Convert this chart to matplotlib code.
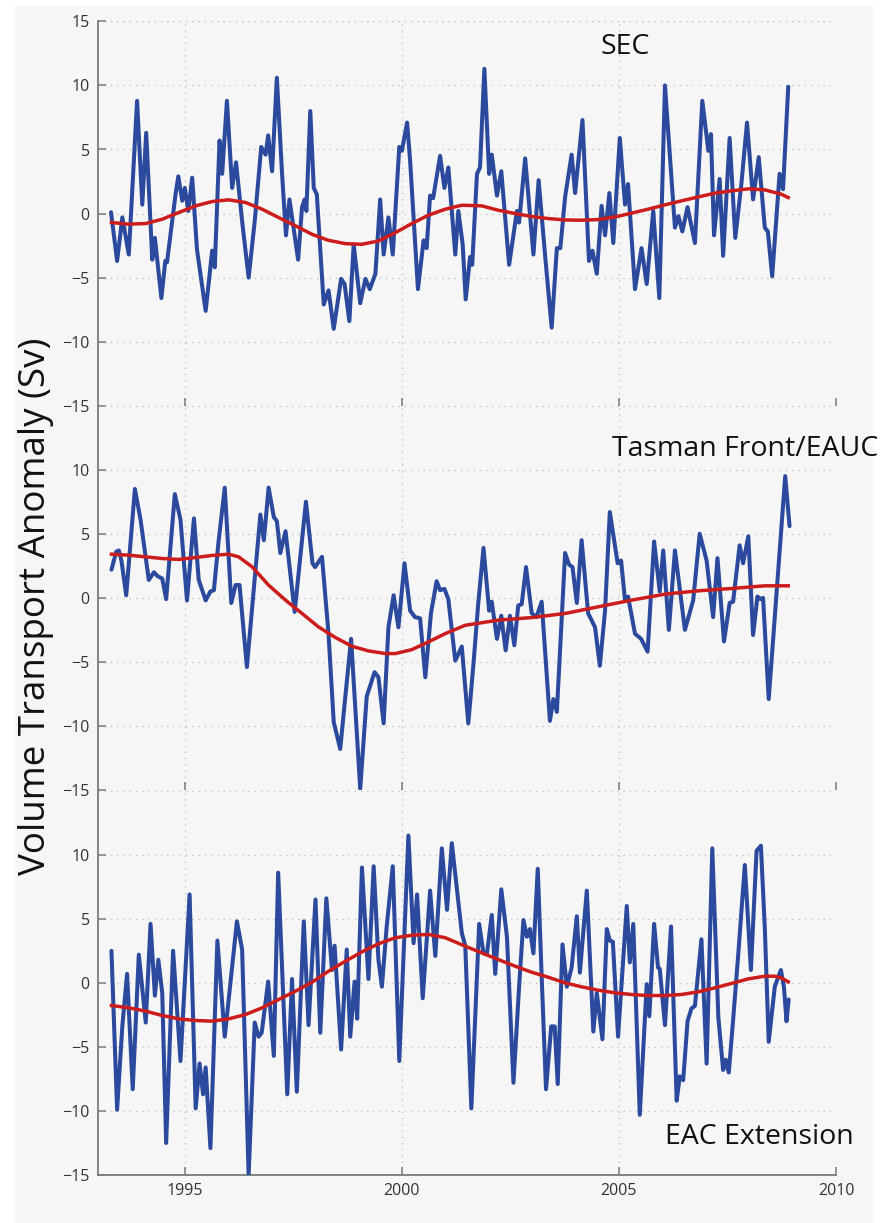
import matplotlib
matplotlib.use('Agg')
import numpy as np
from matplotlib import pyplot as plt
from matplotlib.patches import Rectangle

plt.rcParams['font.family'] = ['Open Sans', 'DejaVu Sans']

### Series (year, Sv) ###
sec_t = [1993.30, 1993.44, 1993.56, 1993.71, 1993.90, 1994.02, 1994.11, 1994.25, 1994.31, 1994.46,
         1994.55, 1994.59, 1994.79, 1994.85, 1994.94, 1995.00, 1995.08, 1995.17, 1995.28, 1995.48,
         1995.63, 1995.69, 1995.80, 1995.86, 1995.97, 1996.09, 1996.18, 1996.32, 1996.47, 1996.61,
         1996.76, 1996.86, 1996.92, 1997.01, 1997.12, 1997.24, 1997.33, 1997.41, 1997.61, 1997.70,
         1997.76, 1997.80, 1997.89, 1997.97, 1998.04, 1998.20, 1998.31, 1998.43, 1998.60, 1998.68,
         1998.79, 1998.89, 1999.04, 1999.16, 1999.26, 1999.39, 1999.50, 1999.58, 1999.69, 1999.79,
         1999.94, 2000.00, 2000.12, 2000.19, 2000.37, 2000.50, 2000.57, 2000.65, 2000.72, 2000.88,
         2000.98, 2001.07, 2001.23, 2001.30, 2001.40, 2001.47, 2001.57, 2001.62, 2001.73, 2001.80,
         2001.90, 2002.01, 2002.07, 2002.19, 2002.29, 2002.47, 2002.65, 2002.70, 2002.84, 2003.03,
         2003.15, 2003.31, 2003.45, 2003.57, 2003.65, 2003.76, 2003.91, 2003.99, 2004.16, 2004.31,
         2004.39, 2004.49, 2004.60, 2004.68, 2004.78, 2004.87, 2005.02, 2005.14, 2005.21, 2005.37,
         2005.52, 2005.64, 2005.79, 2005.93, 2006.06, 2006.29, 2006.37, 2006.46, 2006.58, 2006.75,
         2006.92, 2007.06, 2007.12, 2007.19, 2007.32, 2007.40, 2007.55, 2007.68, 2007.82, 2007.95,
         2008.09, 2008.22, 2008.36, 2008.43, 2008.53, 2008.70, 2008.78, 2008.90]
sec_v = [0.1, -3.7, -0.3, -3.2, 8.8, 0.7, 6.3, -3.6, -1.9, -6.6,
         -3.7, -3.8, 1.6, 2.9, 1.0, 2.0, 0.2, 2.8, -2.8, -7.6,
         -2.9, -4.2, 5.7, 3.1, 8.8, 2.0, 4.0, -0.6, -5.0, -0.6,
         5.2, 4.6, 6.1, 3.3, 10.6, 3.1, -1.7, 1.1, -3.6, 0.5,
         1.1, 0.2, 8.0, 2.0, 1.5, -7.1, -6.0, -9.0, -5.1, -5.5,
         -8.4, -2.4, -7.0, -5.1, -5.9, -4.7, 1.1, -3.2, -0.3, -3.2,
         5.2, 4.9, 7.1, 4.1, -5.9, -2.1, -2.7, 1.4, 1.2, 4.5,
         2.0, 3.6, -3.2, 0.2, -2.4, -6.7, -3.4, -4.0, 3.1, 3.6,
         11.3, 3.1, 4.6, 1.4, 3.3, -4.0, 0.2, -0.7, 4.3, -3.2,
         2.6, -3.7, -8.9, -2.7, -2.7, 1.3, 4.6, 1.6, 7.3, -3.7,
         -2.9, -4.7, 0.6, -1.7, 1.6, -2.3, 5.9, 0.7, 2.3, -5.9,
         -2.7, -5.5, 0.2, -6.6, 10.0, -1.1, -0.2, -1.4, 0.5, -2.3,
         8.8, 4.9, 6.2, -1.7, 2.7, -3.3, 5.9, -1.9, 2.3, 7.1,
         1.1, 4.4, -1.1, -1.4, -4.9, 3.1, 1.9, 9.9]

tf_t = [1993.31, 1993.42, 1993.48, 1993.54, 1993.65, 1993.85, 1993.98, 1994.17, 1994.29, 1994.37,
        1994.48, 1994.57, 1994.77, 1994.90, 1995.05, 1995.21, 1995.32, 1995.48, 1995.59, 1995.67,
        1995.78, 1995.92, 1996.07, 1996.17, 1996.26, 1996.43, 1996.74, 1996.82, 1996.93, 1997.05,
        1997.12, 1997.20, 1997.32, 1997.53, 1997.79, 1997.94, 1998.00, 1998.16, 1998.31, 1998.43,
        1998.58, 1998.68, 1998.83, 1999.04, 1999.19, 1999.37, 1999.46, 1999.58, 1999.69, 1999.81,
        1999.92, 2000.06, 2000.19, 2000.30, 2000.42, 2000.54, 2000.67, 2000.80, 2000.88, 2000.98,
        2001.07, 2001.23, 2001.38, 2001.53, 2001.65, 2001.76, 2001.88, 2002.01, 2002.07, 2002.19,
        2002.29, 2002.39, 2002.49, 2002.59, 2002.68, 2002.76, 2002.86, 2002.99, 2003.10, 2003.22,
        2003.41, 2003.49, 2003.57, 2003.76, 2003.85, 2003.93, 2004.03, 2004.14, 2004.29, 2004.45,
        2004.56, 2004.68, 2004.79, 2004.97, 2005.05, 2005.14, 2005.21, 2005.37, 2005.51, 2005.66,
        2005.81, 2005.94, 2006.02, 2006.15, 2006.29, 2006.52, 2006.71, 2006.86, 2007.02, 2007.17,
        2007.27, 2007.42, 2007.55, 2007.63, 2007.78, 2007.86, 2007.98, 2008.09, 2008.19, 2008.26,
        2008.32, 2008.45, 2008.83, 2008.93]
tf_v = [2.2, 3.6, 3.7, 2.9, 0.2, 8.5, 6.1, 1.4, 2.0, 1.7,
        1.5, -0.1, 8.1, 6.1, -0.2, 6.2, 1.4, -0.2, 0.5, 0.6,
        4.5, 8.6, -0.4, 1.0, 1.0, -5.4, 6.5, 4.5, 8.6, 6.3,
        6.0, 3.5, 5.2, -1.1, 7.5, 2.7, 2.4, 3.2, -2.8, -9.7,
        -11.8, -8.3, -3.2, -14.9, -7.7, -5.8, -6.2, -9.8, -2.3, 0.2,
        -2.3, 2.7, -1.0, -1.5, -1.6, -6.2, -1.2, 1.3, 0.6, 0.7,
        -0.1, -4.9, -3.8, -9.8, -5.1, -0.4, 3.9, -1.0, -0.3, -3.2,
        -1.4, -4.1, -1.4, -3.7, -0.6, -0.5, 2.4, -1.2, -1.5, -0.3,
        -9.6, -7.9, -8.9, 3.5, 2.6, 2.4, -0.4, 4.5, -1.2, -2.3,
        -5.3, -1.0, 6.7, 2.7, 2.9, -0.2, 0.1, -2.8, -3.2, -4.2,
        4.4, 0.5, 3.7, -2.5, 3.7, -2.5, -0.2, 5.0, 2.9, -1.5,
        3.1, -3.4, -0.4, -0.3, 4.1, 2.7, 4.8, -2.9, 0.1, -0.1,
        0.0, -7.9, 9.5, 5.6]

eac_t = [1993.31, 1993.44, 1993.56, 1993.67, 1993.80, 1993.94, 1994.10, 1994.21, 1994.31, 1994.39,
         1994.48, 1994.57, 1994.73, 1994.90, 1995.11, 1995.25, 1995.34, 1995.42, 1995.48, 1995.59,
         1995.75, 1995.92, 1996.20, 1996.32, 1996.47, 1996.61, 1996.70, 1996.77, 1996.92, 1997.05,
         1997.15, 1997.36, 1997.47, 1997.58, 1997.74, 1997.85, 1998.01, 1998.12, 1998.26, 1998.39,
         1998.45, 1998.60, 1998.73, 1998.81, 1998.91, 1998.97, 1999.08, 1999.23, 1999.35, 1999.46,
         1999.54, 1999.65, 1999.79, 1999.94, 2000.15, 2000.27, 2000.35, 2000.48, 2000.65, 2000.77,
         2000.92, 2001.04, 2001.15, 2001.38, 2001.46, 2001.60, 2001.78, 2001.88, 2001.96, 2002.07,
         2002.15, 2002.29, 2002.42, 2002.57, 2002.70, 2002.80, 2002.88, 2002.95, 2003.03, 2003.13,
         2003.22, 2003.32, 2003.44, 2003.52, 2003.59, 2003.70, 2003.80, 2003.91, 2004.03, 2004.10,
         2004.26, 2004.41, 2004.49, 2004.62, 2004.72, 2004.79, 2004.86, 2004.98, 2005.18, 2005.25,
         2005.33, 2005.48, 2005.64, 2005.70, 2005.81, 2005.90, 2005.94, 2006.06, 2006.20, 2006.33,
         2006.40, 2006.48, 2006.58, 2006.67, 2006.75, 2006.90, 2007.02, 2007.15, 2007.29, 2007.40,
         2007.46, 2007.53, 2007.63, 2007.75, 2007.90, 2008.04, 2008.17, 2008.27, 2008.36, 2008.45,
         2008.59, 2008.73, 2008.80, 2008.86, 2008.91]
eac_v = [2.5, -9.9, -3.4, 0.7, -8.3, 2.2, -3.1, 4.6, -1.0, 1.8,
         -0.8, -12.5, 2.5, -6.1, 6.9, -9.8, -6.3, -8.7, -6.6, -12.9,
         3.3, -4.2, 4.8, 2.6, -15.0, -3.1, -4.2, -3.9, 0.1, -5.7,
         8.6, -8.7, 0.3, -8.5, 4.8, -3.3, 6.5, -3.9, 6.6, 1.0,
         2.9, -5.2, 2.6, -4.2, 0.1, -2.8, 9.0, 0.3, 9.1, 1.8,
         -0.3, 4.4, 9.1, -6.1, 11.5, 3.1, 6.9, -1.2, 7.2, 2.1,
         10.5, 5.7, 10.9, 3.9, 2.9, -9.8, 4.6, 2.3, 2.3, 5.3,
         0.7, 7.3, 3.6, -7.8, -0.3, 4.9, 3.6, 4.2, 2.3, 8.9,
         0.5, -8.3, -3.4, -3.4, -7.9, 3.0, -0.3, 1.2, 5.2, 0.8,
         7.2, -3.8, -0.8, -4.4, 4.2, 3.3, 3.2, -4.2, 6.0, 1.6,
         4.6, -10.3, -0.1, -2.6, 4.6, 1.2, 1.1, -3.3, 4.4, -9.2,
         -7.3, -7.6, -3.0, -2.0, -1.8, 3.4, -6.3, 10.5, -2.7, -6.8,
         -6.0, -7.0, -2.9, 2.3, 9.2, 1.0, 10.3, 10.7, 4.3, -4.6,
         -0.3, 1.0, -0.3, -3.0, -1.3]

### Low-pass trends ###
sec_trend_t = [1993.31, 1993.71, 1994.10, 1994.48, 1994.86, 1995.25, 1995.63, 1996.01, 1996.40, 1996.78,
               1997.16, 1997.55, 1997.93, 1998.31, 1998.70, 1999.08, 1999.46, 1999.85, 2000.23, 2000.61,
               2001.00, 2001.38, 2001.84, 2002.22, 2002.61, 2002.99, 2003.37, 2003.76, 2004.14, 2004.52,
               2004.91, 2005.29, 2005.67, 2006.06, 2006.44, 2006.83, 2007.21, 2007.59, 2007.98, 2008.36,
               2008.74, 2008.90]
sec_trend_v = [-0.70, -0.83, -0.78, -0.44, 0.08, 0.60, 0.94, 1.07, 0.86, 0.34,
               -0.31, -0.96, -1.62, -2.09, -2.35, -2.40, -2.14, -1.49, -0.78, -0.13,
               0.34, 0.65, 0.60, 0.26, 0.00, -0.23, -0.39, -0.50, -0.52, -0.47,
               -0.26, 0.03, 0.34, 0.68, 0.99, 1.30, 1.59, 1.77, 1.93, 1.85,
               1.51, 1.25]

tf_trend_t = [1993.31, 1993.71, 1994.10, 1994.48, 1994.86, 1995.25, 1995.63, 1996.01, 1996.24, 1996.55,
              1996.93, 1997.32, 1997.70, 1998.08, 1998.47, 1998.85, 1999.23, 1999.62, 1999.85, 2000.23,
              2000.61, 2001.00, 2001.46, 2002.22, 2002.99, 2003.76, 2004.52, 2005.29, 2006.06, 2006.83,
              2007.59, 2008.36, 2008.90]
tf_trend_v = [3.41, 3.33, 3.20, 3.07, 3.00, 3.15, 3.31, 3.41, 3.20, 2.42,
              0.99, -0.18, -1.22, -2.27, -3.10, -3.78, -4.14, -4.35, -4.35, -4.04,
              -3.44, -2.79, -2.14, -1.74, -1.54, -1.22, -0.70, -0.18, 0.29, 0.55,
              0.73, 0.94, 0.94]

eac_trend_t = [1993.31, 1993.71, 1994.10, 1994.48, 1994.86, 1995.25, 1995.63, 1996.01, 1996.40, 1996.78,
               1997.16, 1997.55, 1997.93, 1998.31, 1998.70, 1999.08, 1999.46, 1999.85, 2000.23, 2000.61,
               2001.00, 2001.46, 2001.84, 2002.22, 2002.61, 2002.99, 2003.37, 2003.76, 2004.14, 2004.52,
               2004.91, 2005.29, 2005.67, 2006.06, 2006.44, 2006.83, 2007.21, 2007.59, 2007.98, 2008.36,
               2008.59, 2008.74, 2008.90]
eac_trend_v = [-1.77, -1.95, -2.21, -2.55, -2.81, -2.94, -2.99, -2.81, -2.47, -1.95,
               -1.30, -0.65, 0.05, 0.91, 1.69, 2.42, 3.05, 3.52, 3.72, 3.78,
               3.52, 2.86, 2.34, 1.82, 1.30, 0.83, 0.44, 0.00, -0.31, -0.57,
               -0.78, -0.91, -0.99, -0.99, -0.91, -0.70, -0.39, -0.05, 0.31, 0.52,
               0.52, 0.39, 0.08]

names = ['SEC', 'Tasman Front/EAUC', 'EAC Extension']
name_pos = [(2005.15, 13.0, 'center'), (2004.84, 11.6, 'left'), (2006.06, -12.0, 'left')]
series = [(sec_t, sec_v, sec_trend_t, sec_trend_v),
          (tf_t, tf_v, tf_trend_t, tf_trend_v),
          (eac_t, eac_v, eac_trend_t, eac_trend_v)]

blue = '#2b4a9e'
red = '#cc1c1c'
spine_c = '#7a7a7a'

fig = plt.figure(figsize=(8.9, 12.23), dpi=100)
fig.patches.append(Rectangle((15 / 890, 0), 858 / 890, 1 - 6 / 1223, transform=fig.transFigure,
                             facecolor='#f6f6f6', edgecolor='none', zorder=-10))

left, width = 98 / 890, 738 / 890
h = 384.3 / 1223
bottoms = [1 - 405.7 / 1223, 1 - 790 / 1223, 1 - 1175 / 1223]

for i in range(3):
    ax = fig.add_axes([left, bottoms[i], width, h])
    ax.set_facecolor('none')
    t, v, tt, tv = series[i]
    ax.plot(t, v, color=blue, lw=2.9, solid_joinstyle='round', solid_capstyle='round', zorder=3)
    ax.plot(tt, tv, color=red, lw=2.5, zorder=4)
    ax.set_xlim(1993, 2010)
    ax.set_ylim(-15, 15)
    if i == 0:
        ax.set_yticks(np.arange(-15, 16, 5))
    else:
        ax.set_yticks(np.arange(-15, 11, 5))
    ax.set_xticks([1995, 2000, 2005, 2010])
    ax.grid(True, color='#bdbdbd', linestyle=(0, (1, 4)), linewidth=0.9)
    # grid line at the top limit
    ax.axhline(15, color='#bdbdbd', linestyle=(0, (1, 4)), linewidth=0.9, zorder=1)
    for s in ['top', 'right']:
        ax.spines[s].set_visible(False)
    ax.spines['left'].set_color(spine_c)
    ax.spines['left'].set_linewidth(1.3)
    if i < 2:
        ax.spines['bottom'].set_visible(False)
        ax.tick_params(axis='x', labelbottom=False)
    else:
        ax.spines['bottom'].set_color(spine_c)
        ax.spines['bottom'].set_linewidth(1.3)
    ax.tick_params(direction='in', length=6, width=1.1, color=spine_c,
                   labelsize=11.5, labelcolor='#333333', pad=6)
    x, y, ha = name_pos[i]
    ax.text(x, y, names[i], ha=ha, va='center', fontsize=20.5, color='#111111', zorder=5)

fig.text(36 / 890, 1 - 606 / 1223, 'Volume Transport Anomaly (Sv)', rotation=90,
         ha='center', va='center', fontsize=26.5, color='#111111')

plt.savefig('out.png', dpi=100)
